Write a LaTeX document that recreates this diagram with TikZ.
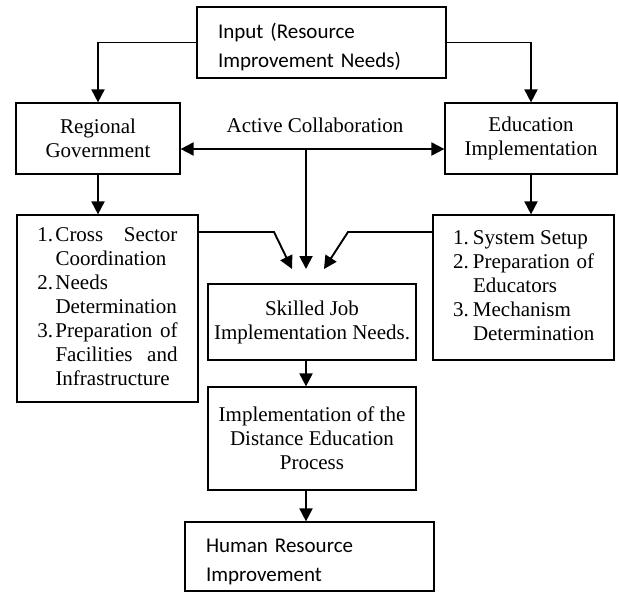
\documentclass[tikz,border=0pt]{standalone}
\usepackage{fontspec}
\setmainfont{Liberation Serif}
\newfontfamily\calibri{Carlito}
\usetikzlibrary{arrows.meta,calc}
\hyphenpenalty=10000
\tolerance=10000
\tikzstyle{block} = [draw, rectangle, line width=1.2pt, inner sep=0pt, font=\fontsize{21}{24}\selectfont]
\tikzstyle{sansblock} = [block, text width=207pt, align=left, font=\calibri\fontsize{21}{29}\selectfont]
\tikzstyle{line} = [draw, line width=1.9pt, -{Triangle[length=13pt,width=13pt]}]
\tikzstyle{both} = [draw, line width=1.9pt, {Triangle[length=13pt,width=13pt]}-{Triangle[length=13pt,width=13pt]}]

\begin{document}
\begin{tikzpicture}[x=1pt,y=-1pt]

\useasboundingbox (0,0) rectangle (619,592);

% boxes
\node[sansblock, minimum width=249pt, minimum height=71pt] (input) at (321.5,42.5) {\rule{0pt}{25pt}Input (Resource\\Improvement Needs)};
\node[block, minimum width=164pt, minimum height=71pt, align=center] (regional) at (98,138.5) {Regional\\Government};
\node[block, minimum width=172pt, minimum height=71pt, align=center] (educ) at (531,138.5) {Education\\Implementation};

\node[block, minimum width=181pt, minimum height=187pt] (leftlist) at (107.5,308.5) {%
\begin{tabular}{@{}p{18pt}@{}p{122pt}@{}}
1.&Cross Sector Coordination\\
2.&Needs Determination\\
3.&Preparation of Facilities and Infrastructure
\end{tabular}};
\node[block, minimum width=181pt, minimum height=145pt] (rightlist) at (523.5,287.5) {%
\begin{tabular}{@{}p{20pt}@{}p{121pt}@{}}
1.&System Setup\\
2.&Preparation of Educators\\
3.&Mechanism Determination
\end{tabular}};

\node[block, minimum width=208pt, minimum height=76pt, align=center] (skilled) at (312,322) {Skilled Job\\Implementation Needs.};
\node[block, minimum width=208pt, minimum height=103pt, align=center] (impl) at (312,438.5) {Implementation of the\\Distance Education\\Process};
\node[sansblock, minimum width=249pt, minimum height=69pt] (human) at (309.5,556.5) {\rule{0pt}{24pt}Human Resource\\Improvement};

\node[font=\fontsize{21}{24}\selectfont] (collab) at (315,125) {Active Collaboration};

% bends and free ends
\coordinate (hub) at (306,149);
\coordinate (drop) at (306,269);
\coordinate (lbend) at (274,232);
\coordinate (ltip) at (292,269);
\coordinate (rbend) at (348,232);
\coordinate (rtip) at (324,269);

% connectors
\draw[line] (input.west) -| (regional.north);
\draw[line] (input.east) -| (educ.north);
\draw[both] (regional.east |- hub) -- (educ.west |- hub);
\draw[line] (hub) -- (drop);
\draw[line] (regional.south) -- (regional.south |- leftlist.north);
\draw[line] (educ.south) -- (educ.south |- rightlist.north);
\draw[line] (leftlist.east |- lbend) -- (lbend) -- (ltip);
\draw[line] (rightlist.west |- rbend) -- (rbend) -- (rtip);
\draw[line] (hub |- skilled.south) -- (hub |- impl.north);
\draw[line] (hub |- impl.south) -- (hub |- human.north);

\end{tikzpicture}
\end{document}
